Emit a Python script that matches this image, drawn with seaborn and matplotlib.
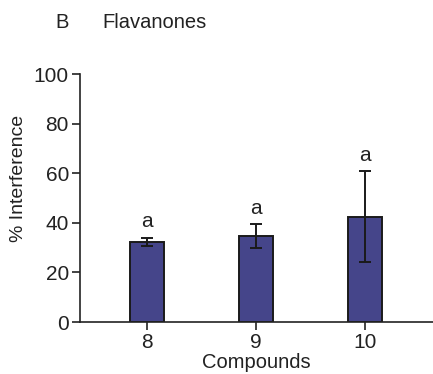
import matplotlib
matplotlib.use("Agg")
import matplotlib.pyplot as plt
import seaborn as sns
import pandas as pd

compounds = ["8", "9", "10"]
means = [32.4, 34.8, 42.5]
errors = [1.6, 4.8, 18.2]
letters = ["a", "a", "a"]

sns.set_style("ticks")
plt.rcParams['font.family'] = ['Liberation Sans', 'DejaVu Sans']

fig = plt.figure(figsize=(4.33, 3.74), dpi=100)
ax = fig.add_axes([80/433, 1-322/374, (433-80)/433, (322-74)/374])

df = pd.DataFrame({"Compound": compounds, "Interference": means})
sns.barplot(data=df, x="Compound", y="Interference", ax=ax, color="#45458a",
            saturation=1, width=0.31, edgecolor="#1a1a1a", linewidth=1.4, errorbar=None)
ax.errorbar(range(len(compounds)), means, yerr=errors, fmt="none", ecolor="#1a1a1a",
            elinewidth=1.4, capsize=4, capthick=1.4)
for i, (m, e, l) in enumerate(zip(means, errors, letters)):
    ax.text(i, m + e + 2.5, l, ha="center", va="bottom", fontsize=15, color="#222222")

ax.set_ylim(0, 100)
ax.set_xlim(-0.61, 2.62)
ax.set_yticks([0, 20, 40, 60, 80, 100])
ax.set_xlabel("Compounds", fontsize=14.5, labelpad=1, color="#222222")
ax.set_ylabel("% Interference", fontsize=14, color="#222222")
ax.yaxis.set_label_coords(-0.15, 0.58)
ax.tick_params(axis="both", labelsize=15, width=1.2, length=6, color="#222222",
               labelcolor="#222222", pad=2)
for s in ["left", "bottom"]:
    ax.spines[s].set_linewidth(1.2)
    ax.spines[s].set_color("#222222")
sns.despine(ax=ax)

fig.text(55/433, 1-22/374, "B", fontsize=14.5, va="center", ha="left", color="#222222")
fig.text(102/433, 1-22/374, "Flavanones", fontsize=14.5, va="center", ha="left", color="#222222")

fig.savefig("out.png", dpi=100)
